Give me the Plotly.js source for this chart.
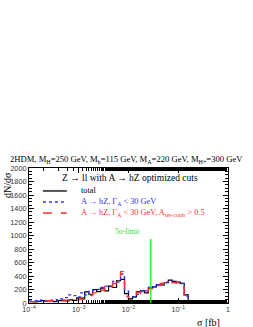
<!DOCTYPE html>
<html><head><meta charset="utf-8">
<script src="https://cdn.plot.ly/plotly-3.0.1.min.js"></script>
<style>html,body{margin:0;padding:0;background:#fff}#c{width:253px;height:327px}</style>
</head><body><div id="c"></div>
<script>
// histogram binning (log10 sigma)
const logLo = -4, logHi = 0, nBins = 50;
// bin contents
const totalVals = [20,15,25,35,25,30,20,35,40,30,45,40,75,60,165,130,200,170,220,180,250,230,330,350,140,60,90,170,180,150,220,240,270,270,300,340,320,310,290,120,0,0,0,0,0,0,0,0,0,0];
const blueVals  = [30,35,30,45,35,40,50,45,60,80,120,110,90,150,120,170,190,200,230,250,240,320,310,430,180,40,90,130,170,180,230,240,270,290,310,320,310,300,290,100,0,0,0,0,0,0,0,0,0,0];
const redVals   = [20,20,15,30,25,35,25,30,30,40,35,50,50,80,70,110,150,210,190,260,240,290,300,465,100,50,70,160,130,170,210,250,260,290,300,320,300,310,270,80,0,0,0,0,0,0,0,0,0,0];
const seriesNames = ['total',
  'A → hZ, Γ<sub>A</sub> &lt; 30 GeV',
  'A → hZ, Γ<sub>A</sub> &lt; 30 GeV, A<sub>res-contr</sub> &gt; 0.5'];
const legendHeader = 'Z → ll with A → hZ optimized cuts';
const limitSigma = 0.028, limitHeight = 950;
const xTickVals = [1e-4,1e-3,1e-2,1e-1,1];
const xTickText = ['10<sup>−4</sup>','10<sup>−3</sup>','10<sup>−2</sup>','10<sup>−1</sup>','1'];
const yTickVals = [0,200,400,600,800,1000,1200,1400,1600,1800,2000];

const edges = [];
for (let i = 0; i <= nBins; i++) edges.push(Math.pow(10, logLo + (logHi - logLo) * i / nBins));
function stepY(v){ return v.concat([v[v.length-1]]); }

const serif = 'Liberation Serif, Times New Roman, serif';
const colors = ['#000000', '#3030ff', '#ff3030'];
const dashes = ['solid', 'dot', 'dash'];
const widths = [1.2, 1.4, 1.4];
const vals = [totalVals, blueVals, redVals];
const traces = vals.map((v, k) => ({x: edges, y: stepY(v), type:'scatter', mode:'lines',
  line:{shape:'hv', color:colors[k], width:widths[k], dash:dashes[k]}, name:seriesNames[k], showlegend:false}));

// manual ROOT-style legend
const legRowsY = [0.83, 0.748, 0.667];
const shapes = [{type:'line', xref:'x', yref:'y', x0:limitSigma, x1:limitSigma, y0:0, y1:limitHeight,
    line:{color:'#22ee22', width:1.3}}];
const annotations = [
    {xref:'paper', yref:'paper', x:0.49, y:1.0, yshift:1, xanchor:'center', yanchor:'bottom', showarrow:false,
     text:'2HDM, M<sub>H</sub>=250 GeV, M<sub>h</sub>=115 GeV, M<sub>A</sub>=220 GeV, M<sub>H+</sub>=300 GeV',
     font:{family:serif, size:8.6, color:'#000'}},
    {xref:'paper', yref:'paper', x:0.51, y:0.926, xanchor:'center', yanchor:'middle', showarrow:false,
     text:legendHeader, font:{family:serif, size:9.5, color:'#000'}},
    {xref:'x', yref:'y', x:Math.log10(limitSigma), y:1060, xanchor:'right', xshift:-9, showarrow:false,
     text:'5σ-limit', font:{family:serif, size:7.5, color:'#33dd33'}},
    {xref:'paper', yref:'paper', x:0, xshift:-22, y:1.0, yshift:-2, xanchor:'center', yanchor:'top', textangle:-90,
     showarrow:false, text:'dN/dσ', font:{family:serif, size:10, color:'#000'}},
    {xref:'paper', yref:'paper', x:0.97, y:0, yshift:-12, xanchor:'right', yanchor:'top', showarrow:false,
     text:'σ [fb]', font:{family:serif, size:10, color:'#000'}}
];
seriesNames.forEach((n, k) => {
  shapes.push({type:'line', xref:'paper', yref:'paper', x0:0.07, x1:0.19, y0:legRowsY[k], y1:legRowsY[k],
    line:{color: k === 0 ? '#555555' : colors[k], width: k === 0 ? 2 : 1.4, dash:dashes[k]}});
  annotations.push({xref:'paper', yref:'paper', x:0.25, y:legRowsY[k], xanchor:'left', yanchor:'middle',
    showarrow:false, text:n, font:{family:serif, size:8.3, color: k === 0 ? '#000' : colors[k]}});
});

const layout = {
  width:253, height:327,
  margin:{l:29, r:25, t:168, b:24},
  paper_bgcolor:'#fff', plot_bgcolor:'#fff',
  font:{family:serif, size:7, color:'#000'},
  showlegend:false,
  xaxis:{type:'log', range:[logLo, logHi], tickvals:xTickVals, ticktext:xTickText,
    ticks:'inside', ticklen:5, tickcolor:'#000', mirror:'allticks', showline:true, linecolor:'#000', linewidth:1,
    showgrid:false, zeroline:false, tickfont:{family:'Liberation Sans, Arial, sans-serif', size:7, color:'#333'},
    minor:{ticks:'inside', ticklen:3, tickcolor:'#000', showgrid:false}},
  yaxis:{range:[0,2000], tickvals:yTickVals, ticks:'inside', ticklen:5, tickcolor:'#000',
    mirror:'allticks', showline:true, linecolor:'#000', linewidth:1, showgrid:false, zeroline:false,
    tickfont:{family:'Liberation Sans, Arial, sans-serif', size:7.3, color:'#333'},
    minor:{ticks:'inside', ticklen:3, tickcolor:'#000', dtick:50, showgrid:false}},
  shapes: shapes,
  annotations: annotations
};
Plotly.newPlot('c', traces, layout, {displayModeBar:false, staticPlot:true});
</script></body></html>
